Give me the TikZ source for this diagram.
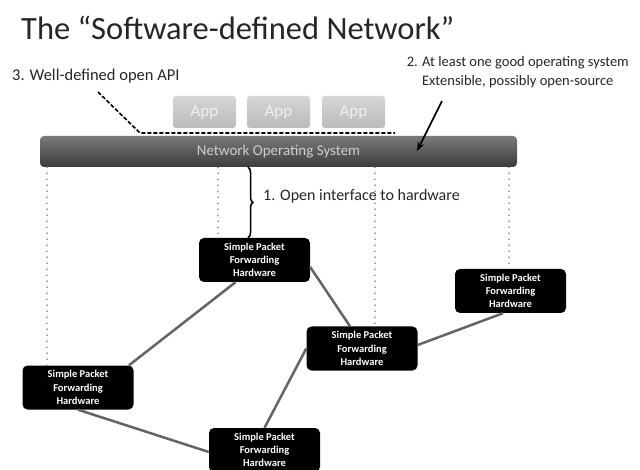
\documentclass[tikz,border=0pt]{standalone}
\usepackage{fontspec}
\setmainfont{Carlito}
\usetikzlibrary{decorations.pathreplacing,arrows.meta}

\definecolor{linkgray}{RGB}{100,100,100}
\definecolor{dotgray}{RGB}{125,125,125}
\definecolor{apptop}{RGB}{214,214,214}
\definecolor{appbot}{RGB}{186,186,186}
\definecolor{apptext}{RGB}{240,240,240}
\definecolor{nostop}{RGB}{122,122,122}
\definecolor{nosbot}{RGB}{60,60,60}
\definecolor{nostext}{RGB}{205,205,205}

\tikzset{
  switchbox/.style={rectangle, rounded corners=5pt, fill=black, text=white,
    minimum width=111pt, minimum height=44pt, inner sep=0pt, align=center,
    font=\fontsize{10.5}{13.3}\selectfont\bfseries},
  appbox/.style={rectangle, rounded corners=3pt, top color=apptop, bottom color=appbot,
    minimum width=63pt, minimum height=32pt, inner sep=0pt, text=apptext,
    font=\fontsize{17}{20}\selectfont},
  osbar/.style={rectangle, rounded corners=4pt, top color=nostop, bottom color=nosbot,
    minimum width=477pt, minimum height=31pt, inner sep=0pt, text=nostext,
    font=\fontsize{15}{18}\selectfont},
  link/.style={draw=linkgray, line width=2.5pt},
  droplink/.style={draw=dotgray, line width=1.7pt, line cap=round, dash pattern=on 0pt off 6pt},
  label/.style={inner sep=0pt, text=black!85},
}

\begin{document}
\begin{tikzpicture}[x=1pt,y=-1pt]
\useasboundingbox[fill=white] (0,0) rectangle (640,470);

% title
\node[label, anchor=base west, font=\fontsize{32.5}{38}\selectfont] (title) at (21,40)
  {The “Software-defined Network”};

% application layer
\node[appbox] (app1) at (204.5,112) {App};
\node[appbox] (app2) at (278.5,112) {App};
\node[appbox] (app3) at (353.5,112) {App};

% network operating system
\node[osbar] (nos) at (278.5,151.5) {Network Operating System};

% forwarding elements
\node[switchbox] (n1) at (254.5,260) {Simple Packet\\Forwarding\\Hardware};
\node[switchbox] (n2) at (362,348.5) {Simple Packet\\Forwarding\\Hardware};
\node[switchbox] (n3) at (510.5,291) {Simple Packet\\Forwarding\\Hardware};
\node[switchbox] (n4) at (78,387.5) {Simple Packet\\Forwarding\\Hardware};
\node[switchbox] (n5) at (264.5,450) {Simple Packet\\Forwarding\\Hardware};

% physical links
\draw[link] ([xshift=-19pt]n1.south) -- ([xshift=51pt]n4.north);
\draw[link] ([yshift=-7pt]n1.east) -- ([xshift=-12pt]n2.north);
\draw[link] ([yshift=3.5pt]n2.east) -- ([xshift=-7.5pt]n3.south);
\draw[link] (n4.south) -- ([yshift=-2pt]n5.west);
\draw[link] (n2.west) -- (n5.north);

% control connections from the OS down to each switch
\coordinate (d1) at (47,0);
\coordinate (d2) at (218,0);
\coordinate (d3) at (375,0);
\coordinate (d4) at (509,0);
\draw[droplink] (nos.south -| d1) -- (n4.north -| d1);
\draw[droplink] (nos.south -| d2) -- (n1.north -| d2);
\draw[droplink] (nos.south -| d3) -- (n2.north -| d3);
\draw[droplink] (nos.south -| d4) -- (n3.north -| d4);

% 1. open interface
\coordinate (bx) at (248,0);
\draw[decorate, decoration={brace, amplitude=5pt}, line width=1.5pt]
  (nos.south -| bx) -- (n1.north -| bx);
\node[label, anchor=west, font=\fontsize{16}{19}\selectfont] (iface) at (263,196)
  {1. Open interface to hardware};

% 2. operating system
\node[label, anchor=east, align=center, font=\fontsize{14.5}{18.5}\selectfont] (oslabel) at (629,72)
  {2. At least one good operating system\\Extensible, possibly open-source};
\coordinate (arrowstart) at (442,101);
\draw[-{Stealth[length=9pt,width=7pt]}, line width=1.6pt] (arrowstart) -- (417,151);

% 3. open API
\node[label, anchor=west, font=\fontsize{16.5}{19}\selectfont] (api) at (12,76)
  {3. Well-defined open API};
\coordinate (apistart) at (98,92);
\coordinate (apibend) at (140,133);
\coordinate (apiend) at (395,133);
\draw[dashed, dash pattern=on 4pt off 2pt, line width=1.6pt] (apistart) -- (apibend) -- (apiend);
\end{tikzpicture}
\end{document}
